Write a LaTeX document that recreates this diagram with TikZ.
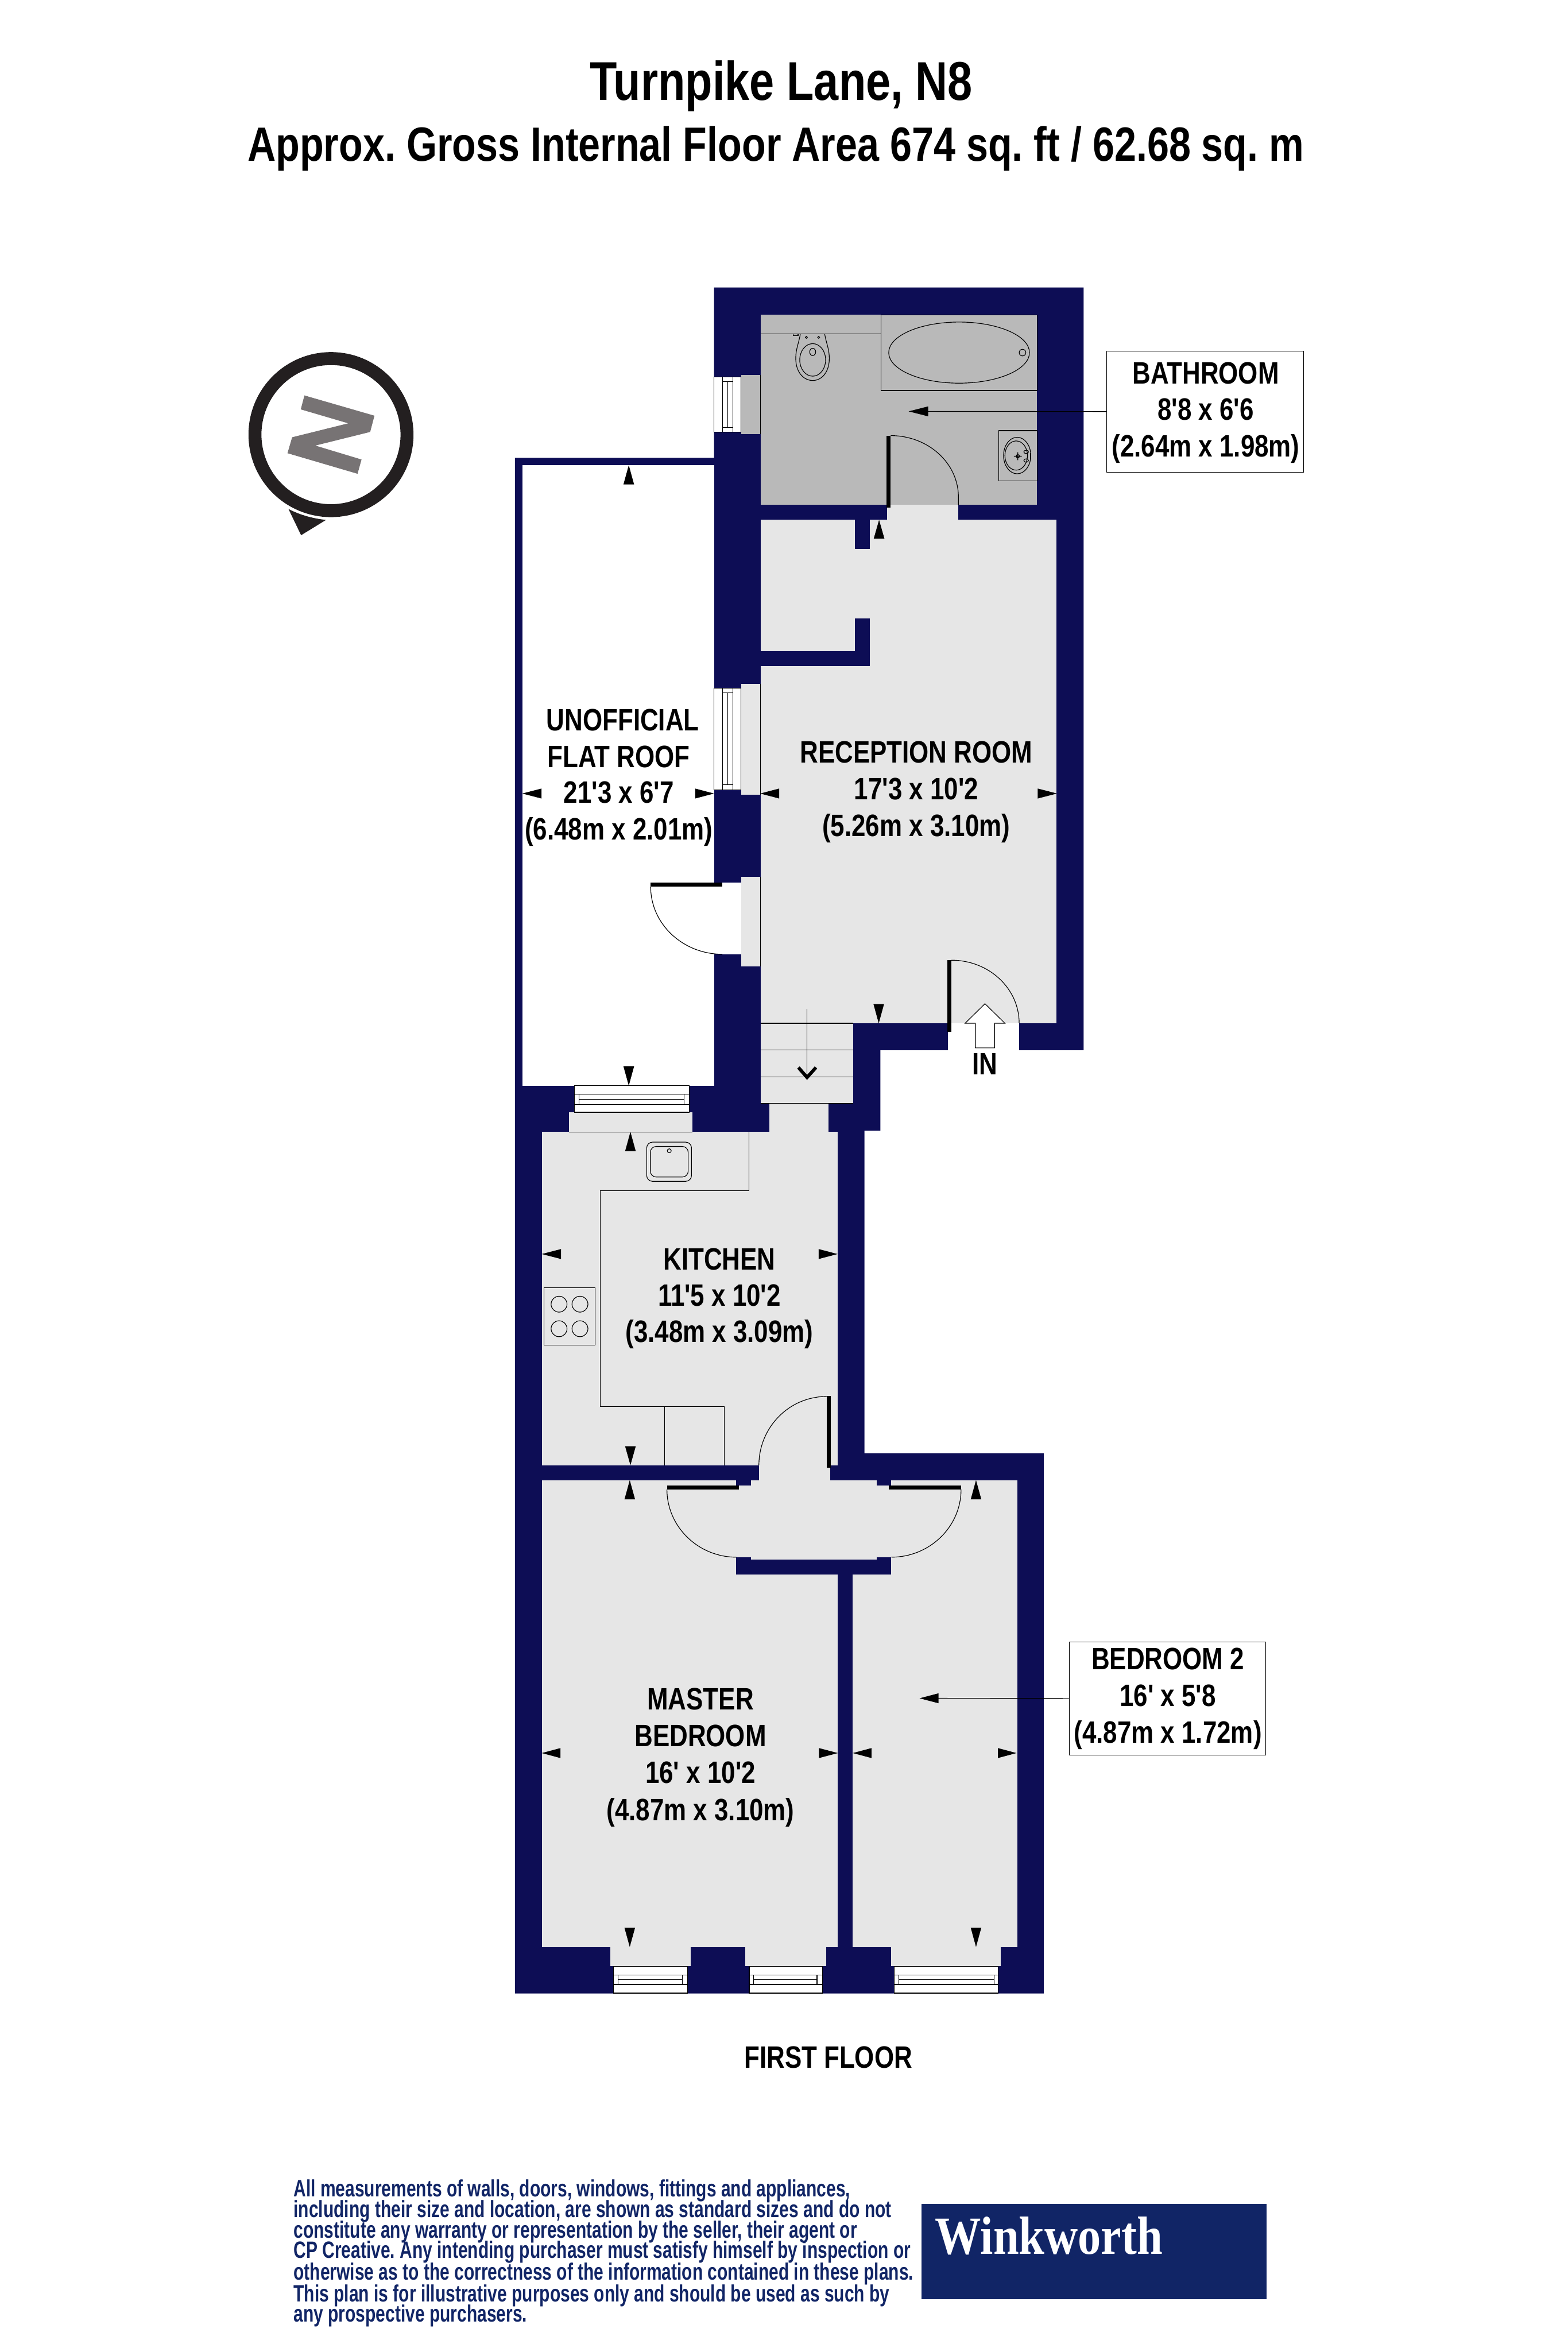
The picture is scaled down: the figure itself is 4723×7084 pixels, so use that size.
\documentclass[tikz,border=0pt]{standalone}
\usepackage{fontspec}
\newfontfamily\planfont[FakeStretch=0.815]{Liberation Sans}
\newfontfamily\notefont[FakeStretch=0.73]{Liberation Sans}
\newfontfamily\brandfont[FakeStretch=0.86]{Liberation Serif}
\frenchspacing
\definecolor{wallblue}{HTML}{0D0D55}
\definecolor{floorgrey}{HTML}{E6E6E6}
\definecolor{bathgrey}{HTML}{B9B9B9}
\definecolor{brandblue}{HTML}{112566}
\definecolor{compassdark}{HTML}{231F20}
\definecolor{compassgrey}{HTML}{777374}
\tikzset{
    wallfill/.style={fill=wallblue}, % walls
    floorfill/.style={fill=floorgrey}, % rooms, sills
    bathfill/.style={fill=bathgrey}, % bathroom floor
    glassfill/.style={fill=white, draw=black, line width=0.02cm}, % window frame
    fitline/.style={draw=black, line width=0.02cm}, % thin fitting lines
    doorleaf/.style={fill=black}, % door leaf
    dimtip/.style={fill=black}, % room size arrow
    labelbox/.style={draw=black, line width=0.02cm, inner sep=0pt, fill=white},
    roomtext/.style={anchor=base, inner sep=0pt, font=\planfont\bfseries\fontsize{26.5pt}{30pt}\selectfont},
    titletext/.style={anchor=base, inner sep=0pt, font=\planfont\bfseries\fontsize{46.8pt}{50pt}\selectfont},
    subtitletext/.style={anchor=base, inner sep=0pt, font=\planfont\bfseries\fontsize{41.2pt}{44pt}\selectfont},
    notetext/.style={anchor=base west, inner sep=0pt, text=brandblue, font=\notefont\bfseries\fontsize{20.2pt}{24pt}\selectfont}
}
\begin{document}
\begin{tikzpicture}[x=0.01cm, y=-0.01cm]
    \useasboundingbox (0,0) rectangle (4723,7084);

    % --- 1. outer walls, then everything is cut out of them ---
    \path[wallfill] (1551,1379) -- (2151,1379) -- (2151,866) -- (3264,866) -- (3264,3163) -- (2652,3163)
        -- (2652,3405) -- (2604,3405) -- (2604,4377) -- (3144,4377) -- (3144,6004) -- (1551,6004) -- cycle;
    \path[fill=white] (1573,1401) rectangle (2151,3270);

    % --- 2. floors ---
    \path[bathfill] (2291,948) rectangle (3124,1521);
    \path[bathfill] (2232,1129) rectangle (2291,1308);
    \path[floorfill] (2291,1566) rectangle (3183,3082);
    \path[floorfill] (2672,1521) rectangle (2887,1566);
    \path[floorfill] (2291,3082) rectangle (2570,3323);
    \path[floorfill] (2317,3323) rectangle (2495,3409);
    \path[floorfill] (1632,3409) rectangle (2523,4413);
    \path[floorfill] (2286,4413) rectangle (2501,4458);
    \path[floorfill] (1632,4458) rectangle (3064,5864);
    \path[fill=white] (2855,3082) rectangle (3070,3163);
    \path[fill=white] (2151,2659) rectangle (2232,2875);

    % --- 3. inner walls ---
    \path[wallfill] (2576,1566) rectangle (2621,1654);
    \path[wallfill] (2576,1862) rectangle (2621,2006);
    \path[wallfill] (2291,1961) rectangle (2621,2006);
    \path[wallfill] (2524,4743) rectangle (2569,5864);
    \path[wallfill] (2218,4698) rectangle (2685,4743);
    \foreach \x/\y in {2218/4458, 2641/4458} {
        \path[wallfill] (\x,\y) rectangle (\x+44,\y+17);
    }
    \foreach \x/\y in {2218/4690, 2641/4690} {
        \path[wallfill] (\x,\y) rectangle (\x+44,\y+8);
    }

    % --- 4. windows: sill, frame, glazing ---
    \foreach \sa/\sb/\wa/\wb/\ia/\ib in {
        1838/2080/1848/2071/1862/2055,
        2245/2488/2257/2477/2270/2461,
        2684/3014/2694/3007/2708/2994
    } {
        \path[floorfill] (\sa,5865) rectangle (\sb,5922);
        \draw[glassfill] (\wa,5923) rectangle (\wb,6003);
        \draw[fitline] (\wa,5948) -- (\wb,5948) (\wa,5977) -- (\wb,5977) (\ia,5962) -- (\ib,5962);
        \draw[fitline] (\ia,5948) -- (\ia,5977) (\ib,5948) -- (\ib,5977);
    }
    \path[floorfill] (1714,3350) rectangle (2085,3409);
    \draw[glassfill] (1730,3270) rectangle (2076,3350);
    \draw[fitline] (1730,3296) -- (2076,3296) (1730,3326) -- (2076,3326) (1744,3311) -- (2061,3311);
    \draw[fitline] (1744,3296) -- (1744,3326) (2061,3296) -- (2061,3326);
    \draw[fitline] (1714,3409) -- (2085,3409);
    \foreach \ya/\yb/\sa/\sb/\ia/\ib in {
        1135/1301/1129/1308/1149/1287,
        2073/2379/2060/2394/2087/2364
    } {
        \draw[glassfill] (2151,\ya) rectangle (2232,\yb);
        \draw[fitline] (2177,\ya) -- (2177,\yb) (2207,\ya) -- (2207,\yb) (2192,\ia) -- (2192,\ib);
        \draw[fitline] (2177,\ia) -- (2207,\ia) (2177,\ib) -- (2207,\ib);
    }
    \path[floorfill] (2232,2060) rectangle (2291,2394);
    \path[floorfill] (2232,2641) rectangle (2291,2910);
    \draw[fitline] (2291,1129) -- (2291,1308) (2291,2060) -- (2291,2394) (2291,2641) -- (2291,2910);

    % --- 5. doors ---
    \path[doorleaf] (2671,1312) rectangle (2683,1529);
    \draw[fitline] (2683,1312) .. controls (2796,1312) and (2887,1395) .. (2887,1497) -- (2887,1521);
    \path[doorleaf] (2853,2891) rectangle (2866,3108);
    \draw[fitline] (2866,2892) .. controls (2979,2892) and (3070,2977) .. (3070,3082);
    \path[doorleaf] (1960,2659) rectangle (2176,2671);
    \draw[fitline] (1960,2671) .. controls (1960,2783) and (2057,2874) .. (2176,2874);
    \path[doorleaf] (2490,4204) rectangle (2502,4421);
    \draw[fitline] (2490,4206) .. controls (2377,4206) and (2286,4299) .. (2286,4413);
    \path[doorleaf] (2009,4474) rectangle (2226,4486);
    \draw[fitline] (2009,4486) .. controls (2009,4598) and (2103,4690) .. (2218,4690);
    \path[doorleaf] (2678,4474) rectangle (2895,4486);
    \draw[fitline] (2895,4486) .. controls (2895,4598) and (2801,4690) .. (2685,4690);

    % --- 6. stairs and the way in ---
    \foreach \y in {3082, 3163, 3244, 3323} {
        \draw[fitline] (2291,\y) -- (2570,\y);
    }
    \draw[fitline] (2431,3038) -- (2431,3247);
    \draw[line width=0.1cm] (2405,3215) -- (2431,3245) -- (2458,3215);
    \draw[fill=white, draw=black, line width=0.02cm] (2967,3023) -- (3027,3082) -- (2996,3082) -- (2996,3156)
        -- (2938,3156) -- (2938,3082) -- (2907,3082) -- cycle;

    % --- 7. bathroom fittings ---
    \draw[fitline] (2654,948) rectangle (3124,1176);
    \draw[fitline] (2291,1005) -- (2654,1005);
    \draw[fitline] (2889,1062) ellipse [x radius=212, y radius=92];
    \draw[fitline] (3080,1062) circle (10);
    \draw[fitline] (2411,1005) .. controls (2406,1035) and (2397,1050) .. (2397,1080)
        .. controls (2397,1120) and (2420,1146) .. (2448,1146)
        .. controls (2476,1146) and (2498,1120) .. (2498,1080)
        .. controls (2498,1050) and (2489,1035) .. (2484,1005);
    \draw[fitline] (2448,1084) ellipse [x radius=39, y radius=49];
    \draw[fitline] (2448,1060) ellipse [x radius=9, y radius=11];
    \draw[fitline] (2429,1016) circle (3) (2466,1016) circle (3);
    \draw[fitline] (2389,1006) rectangle (2404,1011);
    \draw[fitline] (3009,1297) rectangle (3124,1448);
    \draw[fitline] (3064,1372) ellipse [x radius=41, y radius=55];
    \draw[fitline] (3061,1372) ellipse [x radius=34, y radius=44];
    \draw[fitline] (3066,1374) circle (5) (3054,1374) -- (3078,1374) (3066,1362) -- (3066,1386);
    \draw[fitline] (3091,1361) ellipse [x radius=7, y radius=5];
    \draw[fitline] (3091,1387) ellipse [x radius=7, y radius=5];
    \draw[fitline] (3104,1365) -- (3104,1383);

    % --- 8. kitchen fittings ---
    \draw[fitline] (2256,3409) -- (2256,3586) -- (1808,3586) -- (1808,4237) -- (2181,4237) -- (2181,4413);
    \draw[fitline] (2002,4237) -- (2002,4413);
    \draw[fitline, rounded corners=5] (1948,3440) rectangle (2083,3558);
    \draw[fitline, rounded corners=5] (1959,3453) rectangle (2073,3545);
    \draw[fitline] (2016,3466) circle (6);
    \draw[fitline] (1639,3878) rectangle (1792,4052);
    \foreach \x/\y in {1684/3928, 1747/3928, 1684/4002, 1747/4002} {
        \draw[fitline] (\x,\y) circle (24);
    }

    % --- 9. size arrows: tip, base, and the line they stand on ---
    \foreach \tipx/\basex/\y in {
        1573/1631/2390, 2151/2094/2390,
        2290/2347/2390, 3184/3126/2390,
        1632/1690/3777, 2523/2466/3777,
        1632/1688/5280, 2524/2467/5280,
        2569/2625/5280, 3062/3006/5280,
        2737/2796/1239, 2770/2827/5115
    } {
        \path[dimtip] (\tipx,\y) -- (\basex,\y-15) -- (\basex,\y+15) -- cycle;
    }
    \foreach \tipy/\basey/\x in {
        1401/1459/1894, 3270/3212/1894,
        1566/1622/2648, 3082/3024/2647,
        3409/3467/1899, 4413/4356/1899,
        4458/4516/1897, 5864/5806/1897,
        4458/4516/2940, 5864/5806/2940
    } {
        \path[dimtip] (\x,\tipy) -- (\x-16,\basey) -- (\x+16,\basey) -- cycle;
    }

    % --- 10. label boxes with their leaders ---
    \node[labelbox, minimum width=5.92cm, minimum height=3.65cm] (bathbox) at (3630,1239.5) {};
    \node[labelbox, minimum width=5.91cm, minimum height=3.41cm] (bedbox) at (3517.5,5115.5) {};
    \coordinate (bathtip) at (2790,1239);
    \coordinate (bedtip) at (2820,5115);
    \draw[fitline] (bathbox.west) -- (bathtip);
    \draw[fitline] (bedbox.west) -- (bedtip);

    % --- 11. texts ---
    \foreach \lineid/\x/\y/\labelText in {
        bath1/3632/1156/{BATHROOM},
        bath2/3632/1265/{8'8 x 6'6},
        bath3/3632/1376/{(2.64m x 1.98m)},
        roof1/1876/2200/{UNOFFICIAL},
        roof2/1864/2311/{FLAT ROOF},
        roof3/1864/2419/{21'3 x 6'7},
        roof4/1864/2530/{(6.48m x 2.01m)},
        recep1/2760/2297/{RECEPTION ROOM},
        recep2/2760/2408/{17'3 x 10'2},
        recep3/2760/2519/{(5.26m x 3.10m)},
        enter1/2967/3237/{IN},
        kitchen1/2167/3824/{KITCHEN},
        kitchen2/2167/3933/{11'5 x 10'2},
        kitchen3/2167/4043/{(3.48m x 3.09m)},
        master1/2110/5149/{MASTER},
        master2/2110/5260/{BEDROOM},
        master3/2110/5371/{16' x 10'2},
        master4/2110/5483/{(4.87m x 3.10m)},
        bed1/3518/5029/{BEDROOM 2},
        bed2/3518/5139/{16' x 5'8},
        bed3/3518/5250/{(4.87m x 1.72m)},
        floor1/2495/6229/{FIRST FLOOR}
    } {
        \node[roomtext] (\lineid) at (\x,\y) {\labelText};
    }
    \node[titletext] (title1) at (2353,301) {Turnpike Lane, N8};
    \node[subtitletext] (title2) at (2337,485) {Approx. Gross Internal Floor Area 674 sq. ft / 62.68 sq. m};

    % --- 12. small print and brand ---
    \foreach \i/\y/\labelText in {
        1/6616/{All measurements of walls, doors, windows, fittings and appliances,},
        2/6679/{including their size and location, are shown as standard sizes and do not},
        3/6741/{constitute any warranty or representation by the seller, their agent or},
        4/6802/{CP Creative. Any intending purchaser must satisfy himself by inspection or},
        5/6866/{otherwise as to the correctness of the information contained in these plans.},
        6/6932/{This plan is for illustrative purposes only and should be used as such by},
        7/6993/{any prospective purchasers.}
    } {
        \node[notetext] (note\i) at (884,\y) {\labelText};
    }
    \path[fill=brandblue] (2776,6638) rectangle (3816,6925);
    \node[anchor=base west, inner sep=0pt, text=white, font=\brandfont\bfseries\fontsize{46pt}{50pt}\selectfont] (brand) at (2816,6789) {Winkworth};

    % --- 13. compass ---
    \draw[compassdark, line width=0.39cm] (997,1309) circle (229);
    \path[fill=compassgrey] (917,1191) -- (1128,1252) -- (1115,1301) -- (950,1342) -- (1089,1384) -- (1077,1427)
        -- (866,1365) -- (880,1317) -- (1049,1275) -- (906,1233) -- cycle;
    \path[fill=compassdark] (869,1533) .. controls (905,1552) and (945,1562) .. (982,1566) -- (907,1612) -- cycle;
\end{tikzpicture}
\end{document}
